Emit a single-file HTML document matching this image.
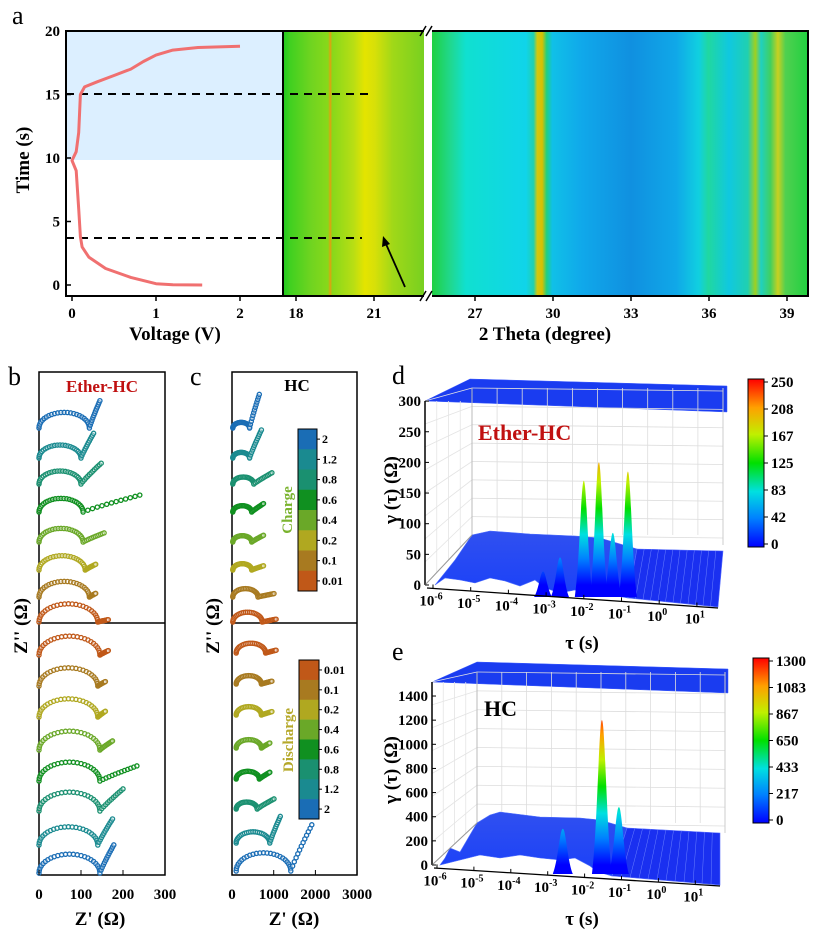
<!DOCTYPE html>
<html><head><meta charset="utf-8"><style>
html,body{margin:0;padding:0;background:#fff;}
svg{display:block;font-family:"Liberation Serif",serif;}
.tk{font-size:15px;font-weight:bold;}
.ttl{font-size:19px;font-weight:bold;}
.lt{font-size:26px;}
</style></head><body>
<svg id="fig" width="819" height="932" viewBox="0 0 819 932" xmlns="http://www.w3.org/2000/svg">
<defs>
<linearGradient id="hmL" gradientUnits="userSpaceOnUse" x1="283" y1="0" x2="424" y2="0">
<stop offset="0" stop-color="#1ec81e"/><stop offset="0.05" stop-color="#40d020"/><stop offset="0.2" stop-color="#70d420"/>
<stop offset="0.32" stop-color="#88d81a"/><stop offset="0.335" stop-color="#e0a010"/><stop offset="0.35" stop-color="#88d81a"/>
<stop offset="0.5" stop-color="#b8de14"/><stop offset="0.58" stop-color="#e4e400"/><stop offset="0.65" stop-color="#d8e008"/>
<stop offset="0.78" stop-color="#a0d818"/><stop offset="1" stop-color="#78d020"/></linearGradient>
<linearGradient id="hmR" gradientUnits="userSpaceOnUse" x1="432" y1="0" x2="808" y2="0">
<stop offset="0" stop-color="#20d040"/><stop offset="0.05" stop-color="#20d890"/><stop offset="0.09" stop-color="#10e0d0"/>
<stop offset="0.25" stop-color="#10d4ea"/><stop offset="0.27" stop-color="#20d0b0"/><stop offset="0.28" stop-color="#d0c810"/>
<stop offset="0.293" stop-color="#d8c000"/><stop offset="0.305" stop-color="#20d080"/><stop offset="0.32" stop-color="#10c0e8"/>
<stop offset="0.4" stop-color="#10a8ea"/><stop offset="0.53" stop-color="#1090e0"/><stop offset="0.65" stop-color="#10a8e8"/>
<stop offset="0.71" stop-color="#10d0e0"/><stop offset="0.735" stop-color="#20d8a0"/><stop offset="0.79" stop-color="#10c8e0"/>
<stop offset="0.84" stop-color="#20d0b0"/><stop offset="0.86" stop-color="#a0d020"/><stop offset="0.875" stop-color="#20d0c0"/>
<stop offset="0.9" stop-color="#40d060"/><stop offset="0.92" stop-color="#c8d020"/><stop offset="0.94" stop-color="#50d050"/>
<stop offset="1" stop-color="#20d040"/></linearGradient>
<linearGradient id="jetD" gradientUnits="userSpaceOnUse" x1="0" y1="585" x2="0" y2="432">
<stop offset="0" stop-color="#0000ff"/><stop offset="0.17" stop-color="#0080ff"/><stop offset="0.33" stop-color="#00e0e0"/>
<stop offset="0.5" stop-color="#00e000"/><stop offset="0.67" stop-color="#c0f000"/><stop offset="0.83" stop-color="#ffa000"/><stop offset="1" stop-color="#ff0000"/></linearGradient>
<linearGradient id="jetE" gradientUnits="userSpaceOnUse" x1="0" y1="865" x2="0" y2="708">
<stop offset="0" stop-color="#0000ff"/><stop offset="0.17" stop-color="#0080ff"/><stop offset="0.33" stop-color="#00e0e0"/>
<stop offset="0.5" stop-color="#00e000"/><stop offset="0.67" stop-color="#c0f000"/><stop offset="0.83" stop-color="#ffa000"/><stop offset="1" stop-color="#ff0000"/></linearGradient>
<linearGradient id="cbar" x1="0" y1="1" x2="0" y2="0">
<stop offset="0" stop-color="#0000ff"/><stop offset="0.17" stop-color="#0080ff"/><stop offset="0.33" stop-color="#00e0e0"/>
<stop offset="0.5" stop-color="#00e000"/><stop offset="0.67" stop-color="#c0f000"/><stop offset="0.83" stop-color="#ffa000"/><stop offset="1" stop-color="#ff0000"/></linearGradient>
<linearGradient id="surf" x1="0" y1="0" x2="0" y2="1"><stop offset="0" stop-color="#3050f0"/><stop offset="1" stop-color="#1a40f8"/></linearGradient>
</defs>

<!-- Panel a -->
<text class="lt" x="12" y="24">a</text>
<rect x="66" y="31" width="217" height="129" fill="#dcefff"/>
<rect x="283" y="31" width="141" height="265" fill="url(#hmL)"/>
<rect x="432" y="31" width="376" height="265" fill="url(#hmR)"/>
<rect x="66" y="31" width="742" height="265" fill="none" stroke="#000" stroke-width="2"/>
<line x1="283" y1="31" x2="283" y2="296" stroke="#000" stroke-width="2"/>
<rect x="424" y="29" width="8" height="269" fill="#fff"/>
<g stroke="#000" stroke-width="1.5"><line x1="420" y1="36" x2="426" y2="26"/><line x1="426" y1="36" x2="432" y2="26"/><line x1="420" y1="301" x2="426" y2="291"/><line x1="426" y1="301" x2="432" y2="291"/></g>
<line x1="66" y1="94" x2="368" y2="94" stroke="#000" stroke-width="2" stroke-dasharray="8,6"/>
<line x1="66" y1="238" x2="362" y2="238" stroke="#000" stroke-width="2" stroke-dasharray="8,6"/>
<line x1="405" y1="287" x2="386" y2="244" stroke="#000" stroke-width="1.8"/>
<polygon points="383,236 382,247 390,244" fill="#000"/>
<g id="aAxes"></g>
<path id="vcurve" fill="none" stroke="#f07070" stroke-width="3" stroke-linejoin="round"/>
<text class="ttl" x="175" y="340" text-anchor="middle">Voltage (V)</text>
<text class="ttl" x="545" y="340" text-anchor="middle">2 Theta (degree)</text>
<text class="ttl" transform="translate(29,160) rotate(-90)" text-anchor="middle">Time (s)</text>

<!-- Panels b, c -->
<text class="lt" x="8" y="385">b</text>
<text class="lt" x="190" y="385">c</text>
<rect x="39" y="372" width="126" height="503" fill="none" stroke="#000" stroke-width="1.5"/>
<line x1="39" y1="623" x2="165" y2="623" stroke="#000" stroke-width="1.5"/>
<rect x="232" y="372" width="125" height="503" fill="none" stroke="#000" stroke-width="1.5"/>
<line x1="232" y1="623" x2="357" y2="623" stroke="#000" stroke-width="1.5"/>
<text x="102" y="392" text-anchor="middle" font-size="17" font-weight="bold" fill="#c01010">Ether-HC</text>
<text x="297" y="391" text-anchor="middle" font-size="17" font-weight="bold">HC</text>
<g id="bcg"></g>
<text class="ttl" x="100" y="925" text-anchor="middle">Z' (Ω)</text>
<text class="ttl" x="294" y="925" text-anchor="middle">Z' (Ω)</text>
<text class="ttl" transform="translate(27,626) rotate(-90)" text-anchor="middle">Z'' (Ω)</text>
<text class="ttl" transform="translate(219,626) rotate(-90)" text-anchor="middle">Z'' (Ω)</text>
<text transform="translate(292,510) rotate(-90)" text-anchor="middle" font-size="15" font-weight="bold" fill="#7ab32e">Charge</text>
<text transform="translate(293,740) rotate(-90)" text-anchor="middle" font-size="15" font-weight="bold" fill="#b5a82a">Discharge</text>

<!-- Panels d, e -->
<text class="lt" x="392" y="384">d</text>
<text class="lt" x="392" y="660">e</text>
<g id="dg"></g>
<g id="eg"></g>
</svg>
<script>
const NS="http://www.w3.org/2000/svg";
function mk(tag,attrs,parent,txt){const e=document.createElementNS(NS,tag);for(const k in attrs)e.setAttribute(k,attrs[k]);if(txt!==undefined)e.textContent=txt;parent.appendChild(e);return e;}

// ---------- Panel a data ----------
const voltageVals=[1.55,1.2,1.0,0.7,0.4,0.2,0.12,0.1,0.08,0.05,0.0,0.05,0.08,0.1,0.15,0.3,0.5,0.7,0.85,1.0,1.2,1.5,2.0];
const timeVals=[0,0.02,0.1,0.6,1.3,2.2,3.0,3.8,6,9,9.8,10.5,12,15,15.6,16,16.5,17,17.6,18.1,18.5,18.7,18.8];
const timeTicks=[0,5,10,15,20];
const voltTicks=[0,1,2];
const thetaTicksLeft=[18,21];
const thetaTicksRight=[27,30,33,36,39];

const xV=v=>72+v*84;
const yT=t=>285-t*12.7;
const xThL=t=>296+(t-18)*26;
const xThR=t=>475+(t-27)*26;
const aG=document.getElementById('aAxes');
timeTicks.forEach(t=>{
  mk('line',{x1:66,y1:yT(t),x2:71,y2:yT(t),stroke:'#000','stroke-width':1.5},aG);
  const e=mk('text',{x:60,y:yT(t)+5,'text-anchor':'end',class:'tk'},aG,String(t));
  
  
});
voltTicks.forEach(v=>{
  mk('line',{x1:xV(v),y1:296,x2:xV(v),y2:301,stroke:'#000','stroke-width':1.5},aG);
  const e=mk('text',{x:xV(v),y:318,'text-anchor':'middle',class:'tk'},aG,String(v));
  
  
});
function thTick(x,t){
  mk('line',{x1:x,y1:296,x2:x,y2:301,stroke:'#000','stroke-width':1.5},aG);
  const e=mk('text',{x:x,y:318,'text-anchor':'middle',class:'tk'},aG,String(t));
  
  
}
thetaTicksLeft.forEach(t=>thTick(xThL(t),t));
thetaTicksRight.forEach(t=>thTick(xThR(t),t));
document.getElementById('vcurve').setAttribute('d',voltageVals.map((v,i)=>(i?'L':'M')+xV(v).toFixed(1)+','+yT(timeVals[i]).toFixed(1)).join(' '));

// ---------- Panels b, c data ----------
const stateColors=['#1a6db5','#1a8a90','#1a9070','#109020','#6aa828','#b0a820','#a87a20','#c05818'];
const stateLabels=['2','1.2','0.8','0.6','0.4','0.2','0.1','0.01'];
const bChargeD=[120,100,100,105,105,110,120,140];
const bChargeEndX=[145,130,148,240,155,135,135,165];
const bChargeEndY=[105,95,80,65,35,22,14,9];
const bDisD=[145,140,140,145,145,145,140,145];
const bDisEndX=[165,158,158,175,233,200,175,178];
const bDisEndY=[17,17,22,35,58,85,100,108];
const cChargeD=[400,400,500,450,450,450,600,700];
const cChargeEndX=[650,700,950,750,750,750,1000,1050];
const cChargeEndY=[1200,1000,400,300,240,150,120,100];
const cDisD=[700,600,600,600,550,500,800,1300];
const cDisEndX=[1050,950,950,900,900,1000,1150,1900];
const cDisEndY=[100,100,120,180,240,360,950,1650];
const topBase=[430,460,486,514,544,572,599,624];
const botBase=[657,688,719,752,783,813,847,875];
const bTicks=[0,100,200,300];
const cTicks=[0,1000,2000,3000];

const bcG=document.getElementById('bcg');
function nyq(x0,sx,sy,base,d,ex,ey,col,name,start){
  const g=mk('g',{},bcG);
  
  
  const pts=[];
  const r=d/2,cx=start+r;
  for(let i=0;i<=24;i++){const a=Math.PI-Math.PI*i/24;pts.push([cx+r*Math.cos(a),r*Math.sin(a)]);}
  for(let i=1;i<=12;i++){const t=i/12;pts.push([start+d+(ex-start-d)*t,ey*Math.pow(t,0.9)]);}
  pts.forEach(p=>{
    const px=x0+p[0]*sx,py=base-p[1]*sy;
    if(px<x0-1)return;
    mk('circle',{cx:px.toFixed(1),cy:py.toFixed(1),r:2.1,fill:'#fff','fill-opacity':0.4,stroke:col,'stroke-width':1.3},g);
  });
}
for(let i=0;i<8;i++){
  nyq(39,0.42,0.26,topBase[i]-2,bChargeD[i],bChargeEndX[i],bChargeEndY[i],stateColors[i],'ether-hc-charge-'+stateLabels[i],0);
  nyq(39,0.42,0.26,botBase[i]-2,bDisD[i],bDisEndX[i],bDisEndY[i],stateColors[7-i],'ether-hc-discharge-'+stateLabels[7-i],0);
  nyq(232,0.042,0.028,topBase[i]-2,cChargeD[i],cChargeEndX[i],cChargeEndY[i],stateColors[i],'hc-charge-'+stateLabels[i],20);
  nyq(232,0.042,0.028,botBase[i]-4,cDisD[i],cDisEndX[i],cDisEndY[i],stateColors[7-i],'hc-discharge-'+stateLabels[7-i],100);
}
bTicks.forEach(t=>{const x=39+t*0.42;mk('line',{x1:x,y1:875,x2:x,y2:870,stroke:'#000'},bcG);
  const e=mk('text',{x:x,y:899,'text-anchor':'middle',class:'tk'},bcG,String(t));
  
  });
cTicks.forEach(t=>{const x=232+t*0.0417;mk('line',{x1:x,y1:875,x2:x,y2:870,stroke:'#000'},bcG);
  const e=mk('text',{x:x,y:899,'text-anchor':'middle',class:'tk'},bcG,String(t));
  
  });
function stateBar(x,y,w,h,order,name){
  const g=mk('g',{},bcG);
  
  
  const n=order.length,sh=h/n;
  order.forEach((idx,k)=>{
    mk('rect',{x:x,y:y+k*sh,width:w,height:sh+0.3,fill:stateColors[idx]},g);
    mk('line',{x1:x+w,y1:y+k*sh+sh/2,x2:x+w+3,y2:y+k*sh+sh/2,stroke:'#000'},g);
    mk('text',{x:x+w+5,y:y+k*sh+sh/2+4,'font-size':12,'font-weight':'bold'},g,stateLabels[idx]);
  });
  mk('rect',{x:x,y:y,width:w,height:h,fill:'none',stroke:'#000'},g);
}
stateBar(298,429,19,162,[0,1,2,3,4,5,6,7],'charge-colorbar');
stateBar(299,660,20,159,[7,6,5,4,3,2,1,0],'discharge-colorbar');

// ---------- Panels d, e (3D DRT) ----------
const tauDecades=[-6,-5,-4,-3,-2,-1,0,1];
const dYTicks=[0,50,100,150,200,250,300];
const dCbarLabels=['250','208','167','125','83','42','0'];
const dPeakLogTau=[-3.08,-2.63,-2.0,-1.6,-1.23,-0.83];
const dPeakH=[22,45,170,200,85,185];
const eYTicks=[0,200,400,600,800,1000,1200,1400];
const eCbarLabels=['1300','1083','867','650','433','217','0'];
const ePeakLogTau=[-2.59,-1.53,-1.07];
const ePeakH=[300,1200,480];

function panel3d(g,o){
  const top=mk('polygon',{points:o.top,fill:'#1a3cf0',stroke:'#3c5cff','stroke-width':0.5},g);
  
  
  for(let i=0;i<=10;i++){const x=o.bwL+(o.bwR-o.bwL)*i/10;mk('line',{x1:x,y1:o.bwT,x2:x,y2:o.bwB,stroke:'#ddd','stroke-width':0.8},g);}
  for(let j=0;j<=8;j++){const y=o.bwT+(o.bwB-o.bwT)*j/8;mk('line',{x1:o.bwL,y1:y,x2:o.bwR,y2:y+3,stroke:'#ddd','stroke-width':0.8},g);
    mk('line',{x1:o.ax,y1:y+(o.axB-o.bwB)*j/8+(o.axT-o.bwT)*(1-j/8),x2:o.bwL,y2:y,stroke:'#e4e4e4','stroke-width':0.8},g);}
  for(let i=1;i<4;i++){const x=o.ax+(o.bwL-o.ax)*i/4;mk('line',{x1:x,y1:o.axT,x2:x,y2:o.axB-(o.axB-o.bwB)*i/4,stroke:'#e4e4e4','stroke-width':0.8},g);}
  mk('line',{x1:o.bwL,y1:o.bwT,x2:o.bwL,y2:o.bwB,stroke:'#bbb'},g);
  mk('line',{x1:o.bwR,y1:o.bwT,x2:o.bwR,y2:o.bwB+10,stroke:'#ccc'},g);
  const s=mk('polygon',{points:o.surfL,fill:'url(#surf)',stroke:'#5070ff','stroke-width':0.6},g);
  
  
  const f=mk('polygon',{points:o.surfR,fill:'#1a30f0',stroke:'#5a70ff','stroke-width':0.6},g);
  
  
  for(let i=1;i<12;i++){const t=i/12;mk('line',{x1:o.rx0+(o.rx1-o.rx0)*t,y1:o.ry0+(o.ry1-o.ry0)*t,x2:o.fx0+(o.fx1-o.fx0)*t,y2:o.fy0+(o.fy1-o.fy0)*t,stroke:'#6a80ff','stroke-width':0.5},g);}
  o.peaks.forEach((l,i)=>{
    const x=o.xTau(l),top=o.axB-o.peakH[i]*o.k,b=o.base,h=b-top,w=o.pw;
    const p=mk('path',{d:`M${x-w},${b} C${x-w*0.45},${b-h*0.3} ${x-w*0.3},${top} ${x},${top} C${x+w*0.3},${top} ${x+w*0.45},${b-h*0.3} ${x+w},${b} Z`,fill:o.grad},g);
    
    
  });
  mk('line',{x1:o.ax,y1:o.axT,x2:o.ax,y2:o.axB,stroke:'#000','stroke-width':1.5},g);
  mk('line',{x1:o.ax,y1:o.axB,x2:o.bwL,y2:o.bwB,stroke:'#999'},g);
  mk('line',{x1:o.ax+2,y1:o.axB+3,x2:o.xEnd,y2:o.yEnd,stroke:'#000','stroke-width':1.3},g);
  o.yTicks.forEach(v=>{
    const y=o.axB-v*o.k;
    mk('line',{x1:o.ax,y1:y,x2:o.ax+4,y2:y,stroke:'#000'},g);
    const e=mk('text',{x:o.ax-4,y:y+5,'text-anchor':'end',class:'tk'},g,String(v));
    
    
  });
  tauDecades.forEach(d=>{
    const x=o.xTau(d),y=o.axB+3+(o.yEnd-o.axB-3)*(x-o.ax)/(o.xEnd-o.ax);
    mk('line',{x1:x,y1:y,x2:x,y2:y-4,stroke:'#000'},g);
    const e=mk('text',{x:x-2,y:y+17,'text-anchor':'middle',class:'tk'},g);
    
    
    mk('tspan',{},e,'10');
    mk('tspan',{dy:-6,'font-size':10},e,String(d));
  });
  const cb=mk('rect',{x:o.cbX,y:o.cbT,width:16,height:o.cbB-o.cbT,fill:'url(#cbar)',stroke:'#000'},g);
  
  
  o.cbLabels.forEach((t,i)=>{
    const y=o.cbT+3+(o.cbB-o.cbT-6)*i/(o.cbLabels.length-1);
    mk('line',{x1:o.cbX+16,y1:y,x2:o.cbX+20,y2:y,stroke:'#000'},g);
    const e=mk('text',{x:o.cbX+23,y:y+5,class:'tk'},g,t);
    
    
  });
  const lab=mk('text',{x:o.lblX,y:o.lblY,'font-size':22,'font-weight':'bold',fill:o.lblCol},g,o.lbl);
  
  
  const tt=mk('text',{x:582,y:o.tY,'text-anchor':'middle',class:'ttl'},g,'τ (s)');
  
  
  const yt=mk('text',{transform:`translate(397,${o.yLabC}) rotate(-90)`,'text-anchor':'middle',class:'ttl'},g,'γ (τ) (Ω)');
  
  
}
panel3d(document.getElementById('dg'),{
  top:'425,401 470,379 727,386 727,412',bwL:472,bwR:723,bwT:388,bwB:535,ax:425,axT:401,axB:585,
  surfL:'435,585 455,560 472,535 490,531 530,534 575,536 600,538 637,549 628,598 600,593 590,596 575,590 560,593 545,588 535,580 520,586 505,581 490,578 475,583 460,580 445,578',
  surfR:'637,549 723,551 718,607 628,598',rx0:637,ry0:549,rx1:723,ry1:551,fx0:628,fy0:598,fx1:718,fy1:607,
  peaks:dPeakLogTau,peakH:dPeakH,k:0.613,base:597,pw:9,grad:'url(#jetD)',
  xTau:l=>433+(l+6)*37.7,xEnd:718,yEnd:608,yTicks:dYTicks,
  cbX:748,cbT:379,cbB:547,cbLabels:dCbarLabels,lbl:'Ether-HC',lblX:478,lblY:440,lblCol:'#c01010',tY:649,yLabC:490
});
panel3d(document.getElementById('eg'),{
  top:'432,682 477,662 728,669 728,693',bwL:477,bwR:725,bwT:672,bwB:823,ax:432,axT:682,axB:865,
  surfL:'440,865 445,858 450,848 460,852 477,823 490,815 500,812 540,817 580,818 600,820 627,828 612,876 598,872 590,866 575,858 560,860 540,858 520,855 500,858 480,855',
  surfR:'627,828 720,833 720,885 612,876',rx0:627,ry0:828,rx1:720,ry1:833,fx0:612,fy0:876,fx1:720,fy1:885,
  peaks:ePeakLogTau,peakH:ePeakH,k:0.1207,base:874,pw:10,grad:'url(#jetE)',
  xTau:l=>437+(l+6)*36.9,xEnd:720,yEnd:886,yTicks:eYTicks,
  cbX:753,cbT:658,cbB:823,cbLabels:eCbarLabels,lbl:'HC',lblX:484,lblY:716,lblCol:'#000',tY:925,yLabC:770
});
</script>
</body></html>
